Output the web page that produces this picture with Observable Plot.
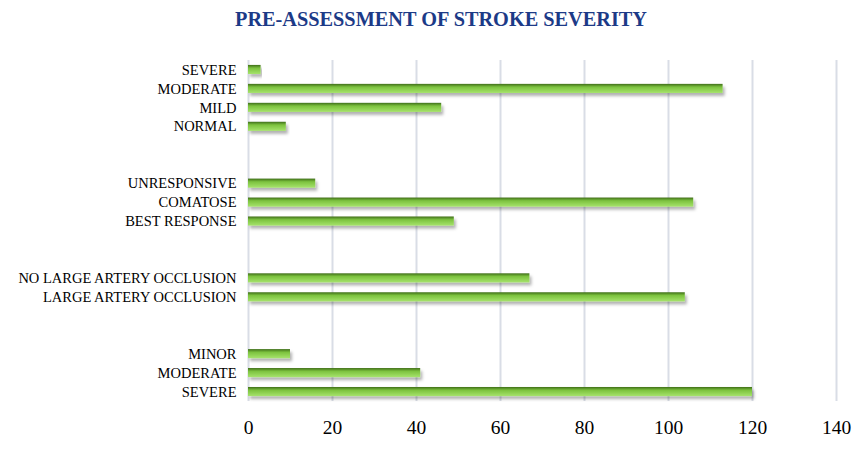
<!DOCTYPE html>
<html>
<head>
<meta charset="utf-8">
<script src="https://cdn.jsdelivr.net/npm/d3@7"></script>
<script src="https://cdn.jsdelivr.net/npm/@observablehq/plot@0.6"></script>
<style>
  body { margin: 0; background: #fff; }
  #title { font-family: "Liberation Serif", "Times New Roman", serif; font-weight: bold; font-size: 20.3px; color: #1c3a87; text-align: center; height: 38px; line-height: 38px; padding-left: 20px; box-sizing: border-box; width: 862px; }
</style>
</head>
<body>
<div id="title">PRE-ASSESSMENT OF STROKE SEVERITY</div>
<div id="chart"></div>
<script>
const severityLabels = ["SEVERE", "MODERATE", "MILD", "NORMAL"];
const severityValues = [3, 113, 46, 9];
const responseLabels = ["UNRESPONSIVE", "COMATOSE", "BEST RESPONSE"];
const responseValues = [16, 106, 49];
const occlusionLabels = ["NO LARGE ARTERY OCCLUSION", "LARGE ARTERY OCCLUSION"];
const occlusionValues = [67, 104];
const strokeLabels = ["MINOR", "MODERATE", "SEVERE"];
const strokeValues = [10, 41, 120];
const xTicks = [0, 20, 40, 60, 80, 100, 120, 140];

const groups = [
  [severityLabels, severityValues],
  [responseLabels, responseValues],
  [occlusionLabels, occlusionValues],
  [strokeLabels, strokeValues]
];

const data = [];
const domain = [];
const labelOf = {};
groups.forEach(([labels, values], gi) => {
  if (gi > 0) {
    for (let b = 0; b < 2; b++) {
      const k = `gap${gi}-${b}`;
      domain.push(k);
      labelOf[k] = "";
    }
  }
  labels.forEach((l, i) => {
    const k = `g${gi}-${l}`;
    domain.push(k);
    labelOf[k] = l;
    data.push({key: k, label: l, value: values[i]});
  });
});

const plot = Plot.plot({
  width: 862,
  height: 423,
  marginLeft: 248,
  marginRight: 26,
  marginTop: 22,
  marginBottom: 60,
  style: {fontFamily: "'Liberation Serif', 'Times New Roman', serif", color: "#000", background: "#fff"},
  x: {domain: [0, 140], ticks: xTicks, label: null, tickSize: 0, tickPadding: 19},
  y: {domain, paddingInner: 0.52, paddingOuter: 0.26, round: false, label: null, tickSize: 0, tickPadding: 12, tickFormat: d => labelOf[d]},
  marks: [
    Plot.gridX(xTicks, {stroke: "#d9dde6", strokeOpacity: 1, strokeWidth: 2}),
    Plot.barX(data, {x: "value", y: "key", fill: "url(#barGrad)"}),
    Plot.axisX({ticks: xTicks, tickSize: 0, tickPadding: 19, fontSize: 19.5, label: null}),
    Plot.axisY({tickSize: 0, tickPadding: 12, fontSize: 14.5, label: null, tickFormat: d => labelOf[d]})
  ]
});

const svg = d3.select(plot);
const defs = svg.insert("defs", ":first-child");
const g = defs.append("linearGradient").attr("id", "barGrad").attr("x1", 0).attr("y1", 0).attr("x2", 0).attr("y2", 1);
g.append("stop").attr("offset", "0%").attr("stop-color", "#3f6e19");
g.append("stop").attr("offset", "35%").attr("stop-color", "#7cc23e");
g.append("stop").attr("offset", "100%").attr("stop-color", "#a6e36c");
const f = defs.append("filter").attr("id", "barShadow").attr("x", "-5%").attr("y", "-50%").attr("width", "115%").attr("height", "250%");
f.append("feDropShadow").attr("dx", 2).attr("dy", 3).attr("stdDeviation", 1.6).attr("flood-color", "#000").attr("flood-opacity", 0.3);
svg.selectAll("g[aria-label='bar'] rect").attr("filter", "url(#barShadow)");

document.getElementById("chart").appendChild(plot);
</script>
</body>
</html>
